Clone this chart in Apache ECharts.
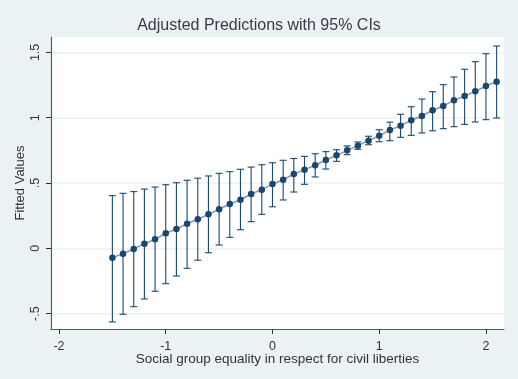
<!DOCTYPE html>
<html>
<head>
<meta charset="utf-8">
<script src="https://cdn.jsdelivr.net/npm/echarts@6/dist/echarts.min.js"></script>
<style>
  html, body { margin: 0; padding: 0; background: #eaf2f3; }
  #chart { width: 518px; height: 379px; }
</style>
</head>
<body>
<div id="chart"></div>
<script>
// Predictor values at which the margins were evaluated
const xValues = [-1.5, -1.4, -1.3, -1.2, -1.1, -1.0, -0.9, -0.8, -0.7, -0.6,
                 -0.5, -0.4, -0.3, -0.2, -0.1, 0.0, 0.1, 0.2, 0.3, 0.4,
                 0.5, 0.6, 0.7, 0.8, 0.9, 1.0, 1.1, 1.2, 1.3, 1.4,
                 1.5, 1.6, 1.7, 1.8, 1.9, 2.0, 2.1];

// Adjusted predictions (fitted values)
const fitted = [-0.072, -0.041, -0.005, 0.035, 0.069, 0.115, 0.148, 0.188, 0.222, 0.260,
                0.299, 0.339, 0.372, 0.416, 0.449, 0.492, 0.525, 0.568, 0.602, 0.636,
                0.676, 0.712, 0.750, 0.786, 0.824, 0.862, 0.905, 0.939, 0.980, 1.013,
                1.057, 1.090, 1.133, 1.166, 1.202, 1.243, 1.276];

// 95% confidence bounds
const ciUpper = [0.403, 0.421, 0.434, 0.454, 0.469, 0.487, 0.502, 0.521, 0.537, 0.554,
                 0.574, 0.587, 0.605, 0.622, 0.640, 0.655, 0.674, 0.688, 0.704, 0.724,
                 0.740, 0.755, 0.784, 0.814, 0.858, 0.908, 0.966, 1.026, 1.084, 1.143,
                 1.199, 1.253, 1.312, 1.371, 1.429, 1.490, 1.549];
const ciLower = [-0.564, -0.505, -0.447, -0.388, -0.329, -0.271, -0.212, -0.153, -0.091, -0.034,
                 0.025, 0.084, 0.142, 0.204, 0.260, 0.318, 0.370, 0.431, 0.490, 0.546,
                 0.607, 0.666, 0.717, 0.758, 0.793, 0.816, 0.824, 0.850, 0.865, 0.883,
                 0.900, 0.916, 0.931, 0.949, 0.967, 0.985, 0.998];

// Axis ticks and their printed labels
const xTicks = [-2, -1, 0, 1, 2];
const xTickLabels = ['-2', '-1', '0', '1', '2'];
const yTicks = [-0.5, 0, 0.5, 1, 1.5];
const yTickLabels = ['-.5', '0', '.5', '1', '1.5'];

const NAVY = '#1a476f';
const FONT = "'Liberation Sans', Arial, sans-serif";

const lineData = xValues.map((x, i) => [x, fitted[i]]);
const ciData = xValues.map((x, i) => [x, ciLower[i], ciUpper[i]]);

function labelFor(ticks, labels) {
  return v => {
    const k = ticks.findIndex(t => Math.abs(t - v) < 1e-9);
    return k >= 0 ? labels[k] : '';
  };
}

const chart = echarts.init(document.getElementById('chart'), null, { renderer: 'canvas' });

chart.setOption({
  backgroundColor: '#eaf2f3',
  animation: false,
  title: {
    text: 'Adjusted Predictions with 95% CIs',
    left: 'center',
    top: 13,
    textStyle: { fontFamily: FONT, fontSize: 16, fontWeight: 'normal', color: '#3a3a4a' }
  },
  grid: {
    left: 51, right: 14, top: 37, bottom: 50,
    show: true, backgroundColor: '#ffffff', borderWidth: 0
  },
  xAxis: {
    type: 'value',
    min: -2.075, max: 2.169,
    name: 'Social group equality in respect for civil liberties',
    nameLocation: 'middle',
    nameGap: 23,
    nameMoveOverlap: false,
    nameTextStyle: { fontFamily: FONT, fontSize: 13.5, color: '#333333' },
    axisLine: { onZero: false, lineStyle: { color: '#5a5a5a', width: 1.2 } },
    axisTick: { show: true, length: 5, customValues: xTicks, lineStyle: { color: '#333333' } },
    axisLabel: {
      customValues: xTicks, margin: 11,
      fontFamily: FONT, fontSize: 12.5, color: '#333333',
      formatter: labelFor(xTicks, xTickLabels)
    },
    splitLine: { show: false }
  },
  yAxis: {
    type: 'value',
    min: -0.618, max: 1.618,
    name: 'Fitted Values',
    nameLocation: 'middle',
    nameGap: 24,
    nameRotate: 90,
    nameMoveOverlap: false,
    nameTextStyle: { fontFamily: FONT, fontSize: 13, color: '#333333' },
    axisLine: { show: true, onZero: false, lineStyle: { color: '#5a5a5a', width: 1.2 } },
    axisTick: { show: true, length: 5, customValues: yTicks, lineStyle: { color: '#333333' } },
    axisLabel: {
      customValues: yTicks, margin: 9, rotate: 90,
      fontFamily: FONT, fontSize: 12.5, color: '#333333',
      formatter: labelFor(yTicks, yTickLabels)
    },
    splitLine: { show: true, lineStyle: { color: '#eaf2f3', width: 1.5 } }
  },
  series: [
    {
      // 95% CI caps
      type: 'custom',
      z: 2,
      data: ciData,
      renderItem: function (params, api) {
        const x = api.value(0);
        const lo = api.coord([x, api.value(1)]);
        const hi = api.coord([x, api.value(2)]);
        const half = 3.5;
        const style = { stroke: NAVY, lineWidth: 1.1, fill: null };
        return {
          type: 'group',
          children: [
            { type: 'line', shape: { x1: lo[0], y1: lo[1], x2: hi[0], y2: hi[1] }, style: style },
            { type: 'line', shape: { x1: hi[0] - half, y1: hi[1], x2: hi[0] + half, y2: hi[1] }, style: style },
            { type: 'line', shape: { x1: lo[0] - half, y1: lo[1], x2: lo[0] + half, y2: lo[1] }, style: style }
          ]
        };
      }
    },
    {
      // Fitted values
      type: 'line',
      z: 3,
      data: lineData,
      symbol: 'circle',
      symbolSize: 6.5,
      itemStyle: { color: NAVY },
      lineStyle: { color: NAVY, width: 1.5, opacity: 0.55 }
    }
  ]
});
</script>
</body>
</html>
